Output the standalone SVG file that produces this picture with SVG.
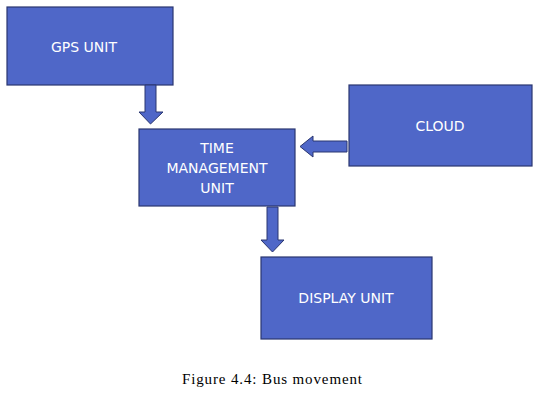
<svg xmlns="http://www.w3.org/2000/svg" width="546" height="400" viewBox="0 0 546 400">
<style>
.box{fill:#4F67C8;stroke:#2A3670;stroke-width:1.2}
.lbl{fill:#FFFFFF;font-family:"DejaVu Sans",sans-serif;font-size:14px;text-anchor:middle}
.arr{fill:#4F67C8;stroke:#2A3670;stroke-width:1}
.cap{fill:#000;font-family:"Liberation Serif",serif;font-size:15px;text-anchor:middle}
</style>
<rect width="546" height="400" fill="#fff"/>
<g id="gps">
<rect class="box" x="7" y="7" width="166" height="78"/>
<text class="lbl" x="84" y="52">GPS UNIT</text>
</g>
<g id="tm">
<rect class="box" x="139" y="129" width="156" height="77"/>
<text class="lbl" x="217" y="153">TIME</text>
<text class="lbl" x="217" y="173">MANAGEMENT</text>
<text class="lbl" x="217" y="193">UNIT</text>
</g>
<g id="cloud">
<rect class="box" x="349" y="85" width="183" height="81"/>
<text class="lbl" x="440" y="131">CLOUD</text>
</g>
<g id="display">
<rect class="box" x="261" y="257" width="171" height="82"/>
<text class="lbl" x="346" y="303">DISPLAY UNIT</text>
</g>
<g id="connectors">
<polygon class="arr" points="145,85 156,85 156,112 163,112 150.5,124 139,112 145,112"/>
<polygon class="arr" points="347,141 347,152 313,152 313,157 300,146.5 313,136 313,141"/>
<polygon class="arr" points="267,207 278,207 278,240 284,240 272.5,252 261,240 267,240"/>
</g>
<text class="cap" x="272" y="384" textLength="180" lengthAdjust="spacing">Figure 4.4: Bus movement</text>
</svg>
